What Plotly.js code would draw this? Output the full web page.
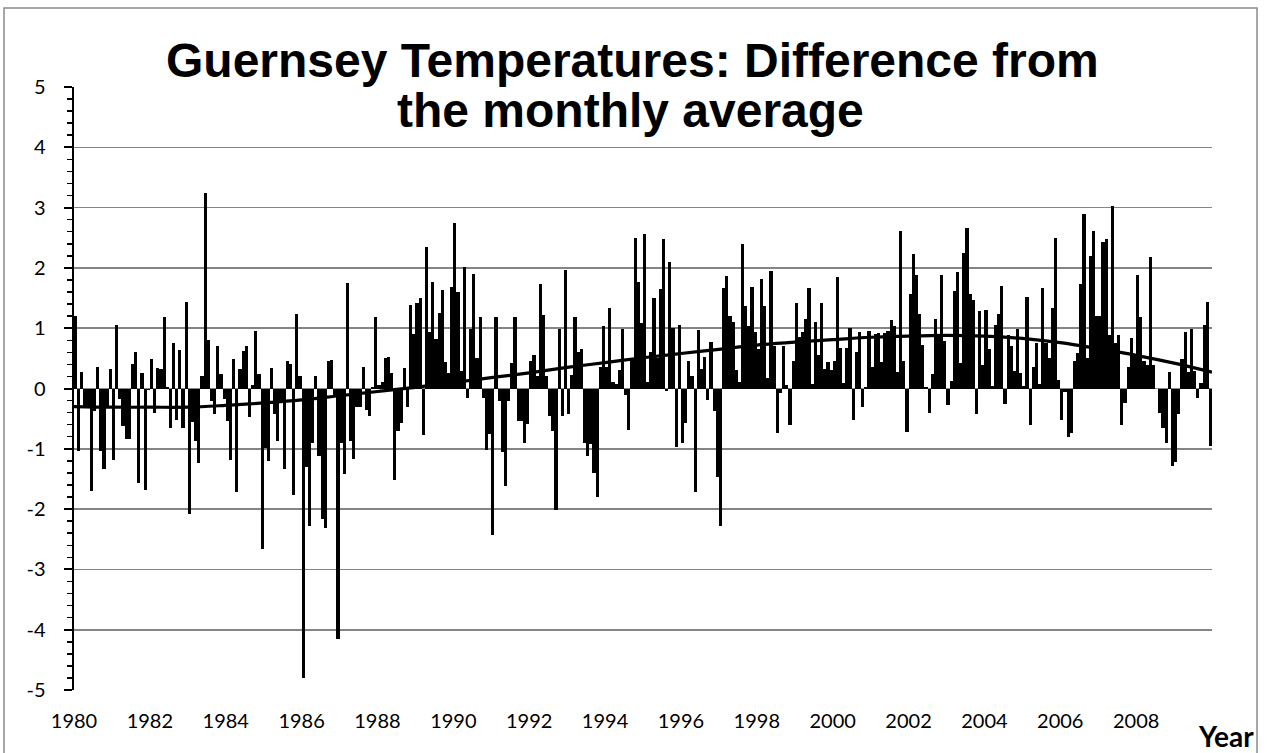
<!DOCTYPE html>
<html>
<head>
<meta charset="utf-8">
<script src="https://cdn.plot.ly/plotly-3.0.1.min.js"></script>
<style>
html,body{margin:0;padding:0;background:#fff;}
#chart{width:1267px;height:753px;}
</style>
</head>
<body>
<div id="chart"></div>
<script>
// Monthly temperature anomalies (difference from monthly average), Jan 1980 onward
const anom1980s = [
  1.2, -1.03, 0.28, -0.3, -0.33, -1.7, -0.38, 0.35, -1.03, -1.34, -0.3, 0.32,
  -1.19, 1.05, -0.18, -0.62, -0.83, -0.83, 0.4, 0.6, -1.57, 0.26, -1.68, -0.02,
  0.49, -0.4, 0.34, 0.33, 1.18, 0.02, -0.66, 0.75, -0.52, 0.64, -0.66, 1.43,
  -2.08, -0.56, -0.87, -1.23, 0.21, 3.24, 0.81, -0.2, -0.43, 0.7, 0.24, -0.18,
  -0.54, -1.19, 0.49, -1.72, 0.32, 0.62, 0.7, -0.48, 0.05, 0.96, 0.24, -2.66,
  -0.98, -1.2, 0.34, -0.43, -0.87, -0.2, -1.34, 0.46, 0.4, -1.77, 1.24, 0.21,
  -4.8, -1.3, -2.28, -0.9, 0.21, -1.12, -2.17, -2.31, 0.46, 0.47, -0.1, -4.15,
  -0.9, -1.42, 1.75, -0.87, -1.17, -0.31, -0.3, 0.36, -0.35, -0.45, 0.03, 1.18,
  0.05, 0.1, 0.5, 0.52, 0.25, -1.52, -0.7, -0.58, 0.34, -0.3, 1.38, 0.91,
  1.41, 1.5, -0.77, 2.35, 0.93, 1.76, 0.82, 1.25, 1.64, 0.44, 0.25, 1.69
];
const anom1990s = [
  2.74, 1.6, 0.29, 2.02, -0.15, 0.98, 1.9, 0.51, 1.19, -0.15, -1.02, -0.75,
  -2.43, 1.18, -0.2, -1.06, -1.62, -0.2, 0.43, 1.19, -0.54, -0.54, -0.91, -0.59,
  0.46, 0.55, 0.2, 1.74, 1.22, 0.2, -0.46, -0.7, -2.02, 0.98, -0.46, 1.97,
  -0.43, 0.22, 1.18, 0.6, 0.65, -0.9, -1.12, -0.92, -1.4, -1.8, 0.35, 1.03,
  0.35, 1.34, 0.1, 0.07, 0.3, 0.98, -0.1, -0.69, 0.5, 2.5, 1.77, 1.08,
  2.56, 0.11, 0.6, 1.5, 0.5, 1.65, 2.48, -0.04, 2.09, 1.0, -0.97, 1.05,
  -0.9, -0.58, 0.46, 0.2, -1.71, 0.97, 0.32, 0.53, -0.19, 0.77, -0.37, -1.46,
  -2.28, 1.67, 1.87, 1.2, 1.1, 0.3, 0.11, 2.39, 1.37, 1.04, 1.69, 0.93,
  0.65, 1.82, 1.37, 0.17, 1.95, 0.7, -0.73, -0.07, 0.71, 0.05, -0.6, 0.46,
  1.41, 0.85, 0.94, 1.15, 1.66, 0.07, 1.11, 0.55, 1.41, 0.33, 0.44, 0.3
];
const anom2000s = [
  0.46, 1.85, 0.68, 0.09, 0.68, 1.01, -0.52, 0.6, 0.93, -0.3, 0.02, 0.95,
  0.36, 0.9, 0.92, 0.44, 0.92, 0.96, 1.13, 1.04, 0.28, 2.62, 0.46, -0.72,
  1.56, 2.23, 1.88, 1.23, 0.72, 0.02, -0.4, 0.24, 1.15, 0.9, 1.88, 0.79,
  -0.28, 0.12, 1.62, 1.93, 0.43, 2.24, 2.67, 1.56, 1.47, -0.43, 1.28, 0.39,
  1.3, 0.66, 0.04, 1.05, 1.23, 1.7, -0.26, 0.88, 0.71, 0.29, 0.98, 0.25,
  0.04, 1.52, -0.61, 0.36, 0.76, 0.07, 1.66, 0.76, 0.5, 1.33, 2.5, 0.14,
  -0.52, -0.05, -0.8, -0.74, 0.45, 0.59, 1.74, 2.89, 0.5, 2.19, 2.61, 1.21,
  1.2, 2.43, 2.48, 0.88, 3.02, 0.76, 0.88, -0.61, -0.24, 0.35, 0.83, 0.54,
  1.88, 1.19, 0.46, 0.39, 2.18, 0.39, -0.01, -0.41, -0.65, -0.9, 0.27, -1.29,
  -1.22, -0.43, 0.49, 0.94, 0.27, 0.99, 0.29, -0.15, 0.09, 1.05, 1.43, -0.95
];
const startYear = 1980;

// Trend line (value at start of each year)
const trendYears = [1980,1981,1982,1983,1984,1985,1986,1987,1988,1989,1990,1991,1992,1993,1994,1995,
  1996,1997,1998,1999,2000,2001,2002,2003,2004,2005,2006,2007,2008,2009,2010];
const trendValues = [-0.30,-0.31,-0.31,-0.31,-0.28,-0.24,-0.19,-0.12,-0.05,0.02,0.10,0.18,0.26,0.35,0.43,0.51,
  0.58,0.65,0.72,0.77,0.81,0.85,0.87,0.88,0.87,0.83,0.76,0.66,0.55,0.42,0.27];

// Tick labels
const xTickYears = [1980,1982,1984,1986,1988,1990,1992,1994,1996,1998,2000,2002,2004,2006,2008];
const yTickVals = [-5,-4,-3,-2,-1,0,1,2,3,4,5];
const yTickText = ['-5','-4','-3','-2','-1','0','1','2','3','4','5'];

const titleLine1 = 'Guernsey Temperatures: Difference from';
const titleLine2 = 'the monthly average';
const xAxisLabel = 'Year';

const anomalies = anom1980s.concat(anom1990s, anom2000s);
const months = anomalies.map((v, i) => startYear + (i + 0.5) / 12);

// plot area in pixels for annotation placement
const L = 74, R = 1212, T = 87, B = 690;
const px = x => (x - L) / (R - L);
const py = y => (B - y) / (B - T);

const traces = [
  {
    type: 'bar', x: months, y: anomalies, width: 1/12,
    marker: {color: '#000000', line: {width: 0}},
    hoverinfo: 'x+y', showlegend: false
  },
  {
    type: 'scatter', mode: 'lines', x: trendYears, y: trendValues,
    line: {color: '#000000', width: 3.2, shape: 'spline', smoothing: 1},
    hoverinfo: 'skip', showlegend: false
  }
];

const layout = {
  width: 1267, height: 753,
  margin: {l: L, r: 1267 - R, t: T, b: 753 - B, pad: 0},
  paper_bgcolor: '#ffffff', plot_bgcolor: '#ffffff',
  bargap: 0,
  showlegend: false,
  xaxis: {
    range: [1980, 2010],
    tickmode: 'array', tickvals: xTickYears, ticktext: xTickYears.map(String),
    showgrid: false, zeroline: false, showline: false, ticks: '',
    ticklabelstandoff: 17,
    tickfont: {family: 'Lato, "Open Sans", sans-serif', size: 20, color: '#000000'}
  },
  yaxis: {
    range: [-5, 5],
    tickmode: 'array', tickvals: yTickVals, ticktext: yTickText,
    showgrid: true, gridcolor: '#858585', gridwidth: 1.6,
    zeroline: false,
    showline: true, linecolor: '#000000', linewidth: 2.5,
    ticks: 'outside', ticklen: 8, tickwidth: 2, tickcolor: '#000000',
    minor: {tickmode: 'linear', tick0: -5, dtick: 0.2, ticks: 'outside', ticklen: 5, tickwidth: 1.5, tickcolor: '#000000', showgrid: false},
    ticklabelstandoff: 14,
    tickfont: {family: 'Lato, "Open Sans", sans-serif', size: 20, color: '#000000'}
  },
  annotations: [
    {text: '<b>' + titleLine1 + '</b>', xref: 'paper', yref: 'paper', x: px(632), y: py(61),
     xanchor: 'center', yanchor: 'middle', showarrow: false,
     font: {family: '"Liberation Sans", Arial, sans-serif', size: 48, color: '#000000'}},
    {text: '<b>' + titleLine2 + '</b>', xref: 'paper', yref: 'paper', x: px(630), y: py(110),
     xanchor: 'center', yanchor: 'middle', showarrow: false,
     font: {family: '"Liberation Sans", Arial, sans-serif', size: 48, color: '#000000'}},
    {text: '<b>' + xAxisLabel + '</b>', xref: 'paper', yref: 'paper', x: px(1226), y: py(736),
     xanchor: 'center', yanchor: 'middle', showarrow: false,
     font: {family: 'Lato, "Open Sans", sans-serif', size: 28, color: '#000000'}}
  ],
  shapes: [
    {type: 'rect', xref: 'paper', yref: 'paper', layer: 'below',
     x0: px(4), x1: px(1257), y0: py(790), y1: py(8),
     line: {color: '#8a8a8a', width: 1.5}, fillcolor: 'rgba(0,0,0,0)'}
  ]
};

Plotly.newPlot('chart', traces, layout, {displayModeBar: false, staticPlot: true});
</script>
</body>
</html>
